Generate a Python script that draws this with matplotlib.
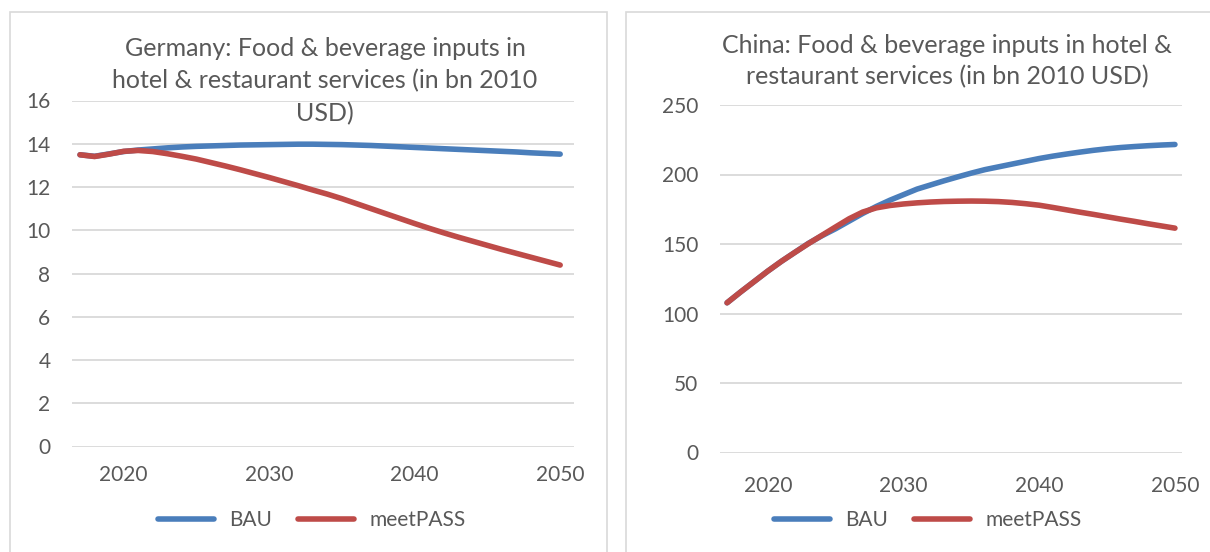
import matplotlib.pyplot as plt
from matplotlib.patches import Rectangle

plt.rcParams['font.family'] = ['Lato', 'DejaVu Sans']

years = list(range(2017, 2051))

# Germany, bn 2010 USD
de_bau = [13.49, 13.42, 13.53, 13.64, 13.71, 13.76, 13.81, 13.85, 13.88, 13.90,
          13.92, 13.94, 13.95, 13.96, 13.97, 13.98, 13.98, 13.97, 13.96, 13.94,
          13.92, 13.89, 13.86, 13.83, 13.80, 13.77, 13.74, 13.71, 13.68, 13.65,
          13.62, 13.58, 13.55, 13.52]
de_pass = [13.49, 13.41, 13.52, 13.65, 13.69, 13.64, 13.54, 13.42, 13.29, 13.13,
           12.97, 12.80, 12.62, 12.44, 12.25, 12.06, 11.86, 11.67, 11.46, 11.23,
           11.00, 10.77, 10.54, 10.31, 10.09, 9.88, 9.68, 9.49, 9.30, 9.11,
           8.93, 8.75, 8.57, 8.39]

# China, bn 2010 USD
cn_bau = [107.7, 115.5, 123.0, 130.5, 137.5, 144.0, 150.5, 156.0, 161.0, 166.5,
          172.0, 177.0, 181.5, 185.5, 189.5, 192.5, 195.5, 198.3, 201.0, 203.5,
          205.5, 207.5, 209.5, 211.5, 213.2, 214.7, 216.1, 217.4, 218.5, 219.4,
          220.1, 220.7, 221.2, 221.6]
cn_pass = [107.7, 115.5, 123.0, 130.5, 137.5, 144.0, 150.3, 156.3, 162.3, 168.2,
           173.0, 176.0, 177.7, 178.8, 179.6, 180.2, 180.6, 180.8, 180.9, 180.8,
           180.5, 179.9, 179.0, 177.9, 176.3, 174.6, 172.9, 171.3, 169.6, 167.9,
           166.3, 164.6, 163.0, 161.4]

x_ticks = [2020, 2030, 2040, 2050]
de_yticks = [0, 2, 4, 6, 8, 10, 12, 14, 16]
cn_yticks = [0, 50, 100, 150, 200, 250]

de_title = ["Germany: Food & beverage inputs in",
            "hotel & restaurant services (in bn 2010",
            "USD)"]
cn_title = ["China: Food & beverage inputs in hotel &",
            "restaurant services (in bn 2010 USD)"]

blue = "#4A7EBB"
red = "#BE4B48"
grey_text = "#595959"
grid_col = "#D9D9D9"

W, H = 1210, 552
fig = plt.figure(figsize=(W / 100, H / 100), dpi=100)

# panel frames
fig.patches.append(Rectangle((10 / W, -0.01), (607 - 10) / W, 1 - 12 / H + 0.01,
                             transform=fig.transFigure, fill=False,
                             edgecolor=grid_col, lw=1.2))
fig.patches.append(Rectangle((626 / W, -0.01), 0.5, 1 - 11.5 / H + 0.01,
                             transform=fig.transFigure, fill=False,
                             edgecolor=grid_col, lw=1.2))


def px_box(x0, y0, x1, y1):
    return [x0 / W, 1 - y1 / H, (x1 - x0) / W, (y1 - y0) / H]


def style(ax, yticks, xlim, xpad):
    ax.set_xlim(*xlim)
    ax.set_ylim(yticks[0], yticks[-1])
    ax.set_yticks(yticks)
    ax.set_xticks(x_ticks)
    for s in ax.spines.values():
        s.set_visible(False)
    ax.grid(axis="y", color=grid_col, lw=1.3)
    ax.set_axisbelow(True)
    ax.tick_params(length=0, labelsize=15, labelcolor=grey_text)
    ax.tick_params(axis="y", pad=15.5)
    ax.tick_params(axis="x", pad=xpad)


ax1 = fig.add_axes(px_box(72, 100.5, 574, 446.5))
ax1.plot(years, de_bau, color=blue, lw=4, solid_capstyle="round", label="BAU")
ax1.plot(years, de_pass, color=red, lw=4, solid_capstyle="round", label="meetPASS")
style(ax1, de_yticks, (2016.45, 2050.95), 13)

ax2 = fig.add_axes(px_box(720, 105, 1182, 452.5))
ax2.plot(years, cn_bau, color=blue, lw=4, solid_capstyle="round", label="BAU")
ax2.plot(years, cn_pass, color=red, lw=4, solid_capstyle="round", label="meetPASS")
style(ax2, cn_yticks, (2016.48, 2050.52), 17)

# titles, one line at a time
for line, y in zip(de_title, [55.6, 88, 121.5]):
    fig.text(325 / W, 1 - y / H, line, ha="center", va="baseline",
             fontsize=18, color=grey_text)
for line, y in zip(cn_title, [53.4, 84.3]):
    fig.text(947 / W, 1 - y / H, line, ha="center", va="baseline",
             fontsize=18, color=grey_text)

for ax, cx in [(ax1, 311.5), (ax2, 927.5)]:
    leg = ax.legend(loc="center", bbox_to_anchor=(cx / W, 1 - 520 / H),
                    bbox_transform=fig.transFigure, ncol=2, frameon=False,
                    fontsize=15, handlelength=2.7, handletextpad=0.72,
                    columnspacing=1.25, borderpad=0)
    for t in leg.get_texts():
        t.set_color(grey_text)

fig.savefig("out.png", dpi=100)
